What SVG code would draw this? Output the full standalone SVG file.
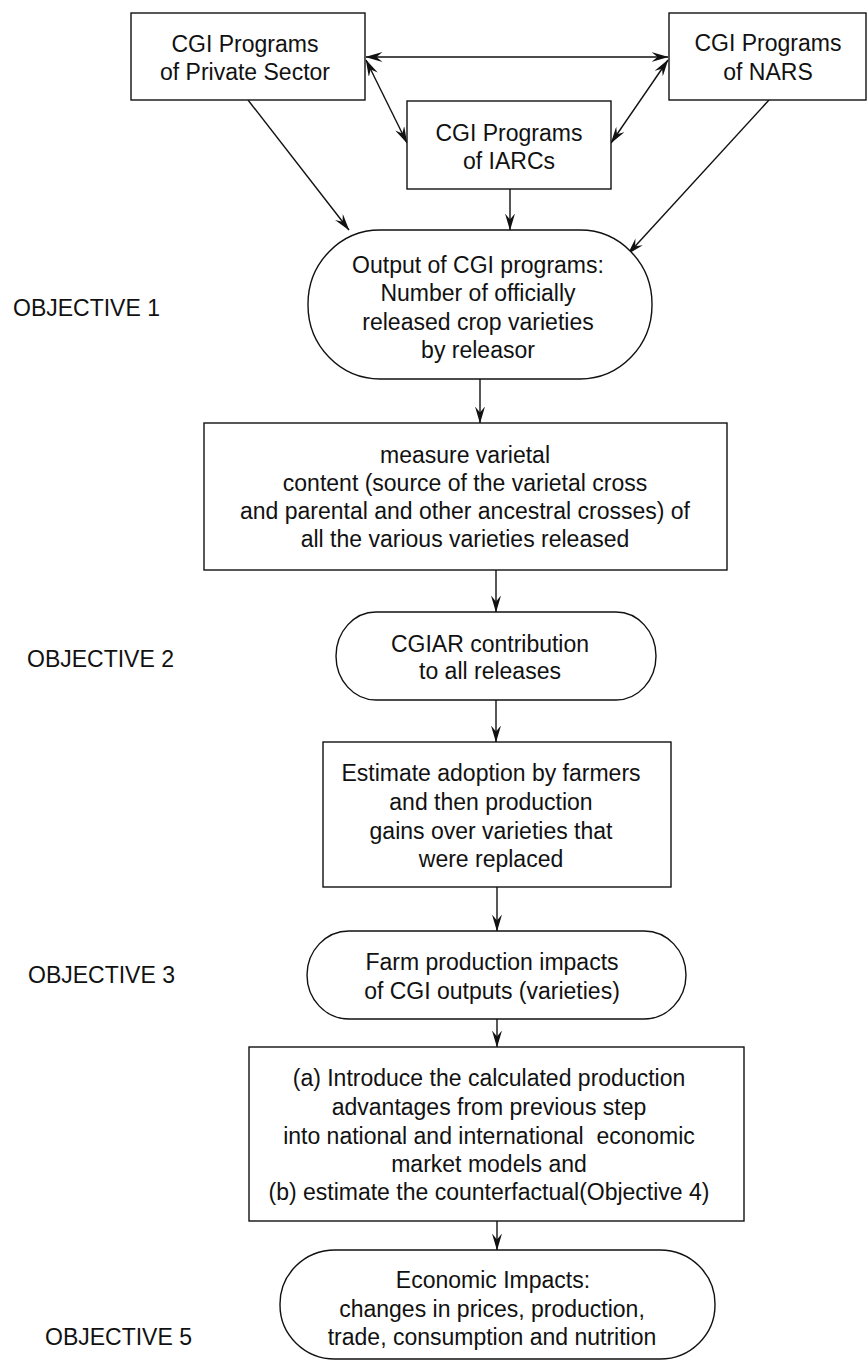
<svg xmlns="http://www.w3.org/2000/svg" width="868" height="1361" viewBox="0 0 868 1361">
<style>
  .box { fill: #fff; stroke: #111; stroke-width: 1.4; }
  .t { font-family: "Liberation Sans", Arial, sans-serif; font-size: 23px; fill: #111; text-anchor: middle; }
  .obj { font-family: "Liberation Sans", Arial, sans-serif; font-size: 23px; fill: #111; }
  .conn { stroke: #111; stroke-width: 1.4; fill: none; }
</style>
<defs>
  <marker id="ah" viewBox="0 0 17 10" refX="16.5" refY="5" markerWidth="17" markerHeight="10" markerUnits="userSpaceOnUse" orient="auto-start-reverse">
    <path d="M0,0 L17,5 L0,10 L6,5 z" fill="#111"/>
  </marker>
</defs>
<rect width="868" height="1361" fill="#fff"/>

<g id="connectors">
  <line class="conn" x1="366" y1="57" x2="668" y2="57" marker-start="url(#ah)" marker-end="url(#ah)"/>
  <line class="conn" x1="366" y1="60" x2="407" y2="143" marker-start="url(#ah)" marker-end="url(#ah)"/>
  <line class="conn" x1="668" y1="60" x2="611" y2="143" marker-start="url(#ah)" marker-end="url(#ah)"/>
  <line class="conn" x1="248" y1="100" x2="349" y2="230" marker-end="url(#ah)"/>
  <line class="conn" x1="510" y1="189" x2="510" y2="230" marker-end="url(#ah)"/>
  <line class="conn" x1="769" y1="100" x2="628" y2="254" marker-end="url(#ah)"/>
  <line class="conn" x1="480" y1="379" x2="480" y2="423" marker-end="url(#ah)"/>
  <line class="conn" x1="496" y1="570" x2="496" y2="612" marker-end="url(#ah)"/>
  <line class="conn" x1="496" y1="700" x2="496" y2="742" marker-end="url(#ah)"/>
  <line class="conn" x1="497" y1="887" x2="497" y2="931" marker-end="url(#ah)"/>
  <line class="conn" x1="497" y1="1019" x2="497" y2="1047" marker-end="url(#ah)"/>
  <line class="conn" x1="497" y1="1221" x2="497" y2="1250" marker-end="url(#ah)"/>
</g>

<g id="private">
  <rect class="box" x="131" y="13" width="234" height="87"/>
  <text class="t" x="245" y="52">CGI Programs</text>
  <text class="t" x="245" y="80">of Private Sector</text>
</g>
<g id="nars">
  <rect class="box" x="669" y="13" width="197" height="87"/>
  <text class="t" x="768" y="51">CGI Programs</text>
  <text class="t" x="768" y="80">of NARS</text>
</g>
<g id="iarcs">
  <rect class="box" x="407" y="101" width="204" height="88"/>
  <text class="t" x="509" y="141">CGI Programs</text>
  <text class="t" x="509" y="169">of IARCs</text>
</g>
<g id="output">
  <rect class="box" x="308" y="230" width="344" height="149" rx="72" ry="74"/>
  <text class="t" x="478" y="273">Output of CGI programs:</text>
  <text class="t" x="478" y="301">Number of officially</text>
  <text class="t" x="478" y="330">released crop varieties</text>
  <text class="t" x="478" y="358">by releasor</text>
</g>
<g id="measure">
  <rect class="box" x="204" y="423" width="523" height="147"/>
  <text class="t" x="465" y="463">measure varietal</text>
  <text class="t" x="465" y="491">content (source of the varietal cross</text>
  <text class="t" x="465" y="519">and parental and other ancestral crosses) of</text>
  <text class="t" x="465" y="547">all the various varieties released</text>
</g>
<g id="cgiar">
  <rect class="box" x="336" y="612" width="320" height="88" rx="40" ry="44"/>
  <text class="t" x="490" y="652">CGIAR contribution</text>
  <text class="t" x="490" y="679">to all releases</text>
</g>
<g id="estimate">
  <rect class="box" x="323" y="742" width="348" height="145"/>
  <text class="t" x="491" y="781">Estimate adoption by farmers</text>
  <text class="t" x="491" y="810">and then production</text>
  <text class="t" x="491" y="839">gains over varieties that</text>
  <text class="t" x="491" y="867">were replaced</text>
</g>
<g id="farm">
  <rect class="box" x="307" y="931" width="379" height="88" rx="42" ry="44"/>
  <text class="t" x="492" y="970">Farm production impacts</text>
  <text class="t" x="492" y="999">of CGI outputs (varieties)</text>
</g>
<g id="market">
  <rect class="box" x="249" y="1047" width="495" height="174"/>
  <text class="t" x="489" y="1086">(a) Introduce the calculated production</text>
  <text class="t" x="489" y="1115">advantages from previous step</text>
  <text class="t" x="489" y="1144" xml:space="preserve">into national and international  economic</text>
  <text class="t" x="489" y="1172">market models and</text>
  <text class="t" x="489" y="1200">(b) estimate the counterfactual(Objective 4)</text>
</g>
<g id="economic">
  <rect class="box" x="280" y="1250" width="435" height="109" rx="55" ry="54"/>
  <text class="t" x="493" y="1288">Economic Impacts:</text>
  <text class="t" x="492" y="1317">changes in prices, production,</text>
  <text class="t" x="492" y="1345">trade, consumption and nutrition</text>
</g>
<g id="objectives">
  <text class="obj" x="13" y="316">OBJECTIVE 1</text>
  <text class="obj" x="27" y="667">OBJECTIVE 2</text>
  <text class="obj" x="28" y="983">OBJECTIVE 3</text>
  <text class="obj" x="45" y="1345">OBJECTIVE 5</text>
</g>
</svg>
